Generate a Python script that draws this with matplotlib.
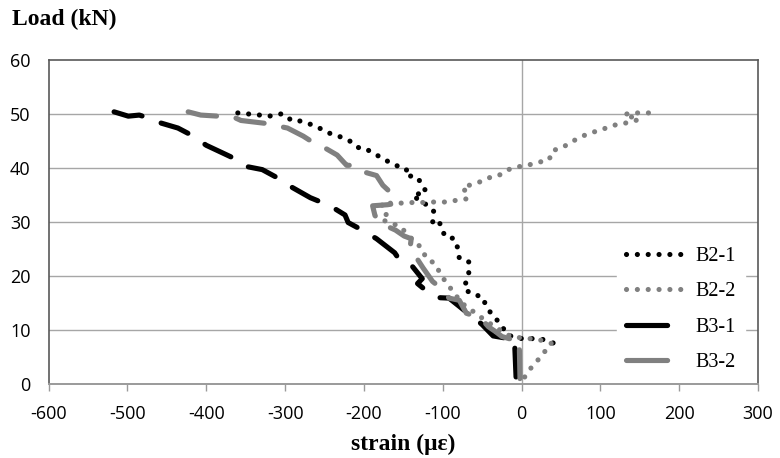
import matplotlib
matplotlib.use("Agg")
import numpy as np
import matplotlib.pyplot as plt
from matplotlib.lines import Line2D

# ---- data ----
b21_strain = [40, 29, 18, 10, 1, -8, -18, -27, -38, -45, -50, -63, -73, -67, -67, -79, -81, -86, -94,
              -102, -104, -113, -111, -120, -127, -138, -121, -127, -136, -146, -146, -156, -165, -176,
              -188, -199, -208, -218, -232, -243, -254, -262, -272, -281, -291, -302, -308, -320, -332,
              -346, -360]
b21_load = [7.6, 8.2, 8.4, 8.4, 8.4, 8.6, 9.1, 11.2, 12.9, 14.5, 16.2, 16.6, 17.7, 20.5, 22.6, 23.3,
            25.2, 27.0, 27.0, 28.5, 30.0, 29.7, 31.9, 33.2, 33.6, 35.0, 35.5, 37.3, 38.6, 38.4, 39.8,
            40.3, 40.8, 41.8, 42.7, 43.7, 43.8, 45.0, 45.9, 46.4, 47.2, 47.8, 48.3, 48.7, 48.7, 50.0,
            50.0, 49.6, 49.8, 50.0, 50.2]

b22_strain = [4, 11, 20, 30, 38, 20, 0, -16, -33, -50, -62, -77, -85, -96, -104, -110, -121, -127,
              -140, -155, -165, -178, -171, -178, -164, -148, -140, -127, -113, -98, -83, -69, -69,
              -75, -60, -47, -37, -28, -15, -5, 10, 20, 35, 39, 52, 64, 79, 90, 102, 112, 125, 136,
              149, 130, 140, 150, 161]
b22_load = [1.3, 2.8, 4.3, 6.1, 7.5, 8.3, 8.5, 9.0, 10.5, 12.2, 13.5, 15.1, 16.8, 18.8, 20.7, 22.3,
            23.3, 25.2, 27.0, 29.3, 29.7, 30.5, 31.5, 33.4, 33.5, 33.5, 33.6, 33.6, 33.7, 33.7, 34.0,
            34.3, 35.3, 36.4, 37.1, 37.7, 38.5, 38.7, 39.8, 40.2, 40.6, 41.0, 41.5, 43.2, 43.8, 44.9,
            46.0, 46.6, 47.1, 47.7, 48.2, 48.4, 49.0, 49.9, 50.2, 50.2, 50.2]

b31_strain = [-7, -9, -20, -36, -50, -62, -69, -80, -92, -107, -117, -132, -126, -142, -155, -161,
              -184, -201, -220, -224, -243, -268, -291, -310, -329, -350, -365, -381, -400, -419,
              -436, -457, -470, -485, -499, -517]
b31_load = [1.3, 8.4, 8.5, 8.9, 11.0, 12.5, 13.2, 14.5, 15.9, 16.0, 16.8, 18.6, 19.5, 22.4, 23.0,
            24.3, 26.9, 28.4, 29.9, 31.3, 33.0, 34.5, 36.4, 38.2, 39.7, 40.3, 41.8, 42.9, 44.2, 46.1,
            47.4, 48.3, 49.1, 49.8, 49.6, 50.4]

b32_strain = [-2, -3, -16, -25, -33, -42, -50, -60, -70, -79, -92, -102, -113, -125, -133, -142, -140,
              -149, -160, -178, -186, -189, -170, -161, -165, -176, -184, -208, -214, -222, -234,
              -247, -262, -277, -297, -327, -356, -365, -385, -407, -423]
b32_load = [1.0, 8.2, 8.4, 8.8, 9.7, 10.6, 11.9, 12.6, 13.1, 15.5, 15.9, 17.7, 19.0, 21.5, 23.3,
            24.6, 26.9, 27.4, 28.5, 29.7, 31.2, 33.0, 33.2, 33.4, 35.3, 36.8, 38.6, 39.6, 40.5, 40.5,
            42.4, 43.5, 44.5, 45.9, 47.4, 48.3, 48.8, 49.4, 49.6, 49.8, 50.4]

series_names = ["B2-1", "B2-2", "B3-1", "B3-2"]
x_ticks = [-600, -500, -400, -300, -200, -100, 0, 100, 200, 300]
y_ticks = [0, 10, 20, 30, 40, 50, 60]

BLACK = "#000000"
GRAY = "#808080"
LW = 3.7
DOT_ON, DOT_OFF = 0.01, 2.1
DASH_ON, DASH_OFF = 5.6, 3.6

fig = plt.figure(figsize=(7.8, 4.58), dpi=100)
ax = fig.add_axes([0.0624, 0.1616, 0.9094, 0.7074])

ax.set_xlim(-600, 300)
ax.set_ylim(0, 60)


def path_len_units(xs, ys):
    """Length of the drawn path in dash units (points / linewidth)."""
    pts = ax.transData.transform(np.column_stack([xs, ys]))
    seg = np.hypot(np.diff(pts[:, 0]), np.diff(pts[:, 1])).sum()
    return seg * 72.0 / fig.dpi / LW


def fitted_style(xs, ys, on, off):
    """Stretch the gap slightly so the pattern starts and ends on a mark."""
    L = path_len_units(xs, ys)
    period = on + off
    n = max(1, round((L - on) / period))
    new_off = (L - on) / n - on
    return (0, (on, new_off))


# grid + zero line
for yv in y_ticks[1:-1]:
    ax.axhline(yv, color="#a6a6a6", lw=1.0, zorder=0)
ax.axvline(0, color="#a6a6a6", lw=1.0, zorder=0)

ax.plot(b21_strain, b21_load, color=BLACK, lw=LW,
        linestyle=fitted_style(b21_strain, b21_load, DOT_ON, DOT_OFF),
        dash_capstyle="round", solid_capstyle="round", zorder=3)
ax.plot(b22_strain, b22_load, color=GRAY, lw=LW,
        linestyle=fitted_style(b22_strain, b22_load, DOT_ON, DOT_OFF),
        dash_capstyle="round", solid_capstyle="round", zorder=3)
ax.plot(b31_strain, b31_load, color=BLACK, lw=LW,
        linestyle=fitted_style(b31_strain, b31_load, DASH_ON, DASH_OFF),
        dash_capstyle="round", solid_capstyle="round", zorder=3)
ax.plot(b32_strain, b32_load, color=GRAY, lw=LW,
        linestyle=fitted_style(b32_strain, b32_load, DASH_ON, DASH_OFF),
        dash_capstyle="round", solid_capstyle="round", zorder=3)

# spines
for s in ["left", "top", "right"]:
    ax.spines[s].set_color("#595959")
    ax.spines[s].set_linewidth(1.2)
ax.spines["bottom"].set_color("#9a9a9a")
ax.spines["bottom"].set_linewidth(1.4)

tick_font = ["Open Sans", "DejaVu Sans"]
ax.set_xticks(x_ticks)
ax.set_yticks(y_ticks)
ax.set_xticklabels([str(v) for v in x_ticks], family=tick_font, fontsize=13)
ax.set_yticklabels([str(v) for v in y_ticks], family=tick_font, fontsize=13)
ax.tick_params(axis="x", direction="out", length=5, width=1.0, color="#9a9a9a", pad=10)
ax.tick_params(axis="y", length=0, pad=13)

serif = ["Liberation Serif", "DejaVu Serif"]
fig.text(0.015, 0.957, "Load (kN)", family=serif, fontweight="bold", fontsize=17,
         ha="left", va="center")
ax.set_xlabel("strain (με)", family=serif, fontweight="bold", fontsize=17, labelpad=8)

handles = [
    Line2D([], [], color=BLACK, lw=LW, linestyle=(0, (DOT_ON, DOT_OFF)), dash_capstyle="round"),
    Line2D([], [], color=GRAY, lw=LW, linestyle=(0, (DOT_ON, DOT_OFF)), dash_capstyle="round"),
    Line2D([], [], color=BLACK, lw=LW, linestyle=(0, (8, 8)), dash_capstyle="round"),
    Line2D([], [], color=GRAY, lw=LW, linestyle=(0, (8, 8)), dash_capstyle="round"),
]
leg = ax.legend(handles, series_names, loc="upper left",
                bbox_to_anchor=(617 / 780, 1 - 238 / 458), bbox_transform=fig.transFigure,
                prop={"family": serif, "size": 14.5}, frameon=True, fancybox=False,
                handlelength=3.1, handletextpad=0.35, labelspacing=0.8, borderpad=0.45,
                borderaxespad=0)
leg.get_frame().set_facecolor("white")
leg.get_frame().set_edgecolor("white")
leg.get_frame().set_alpha(1.0)
leg.set_zorder(5)

fig.savefig("out.png", dpi=100)
